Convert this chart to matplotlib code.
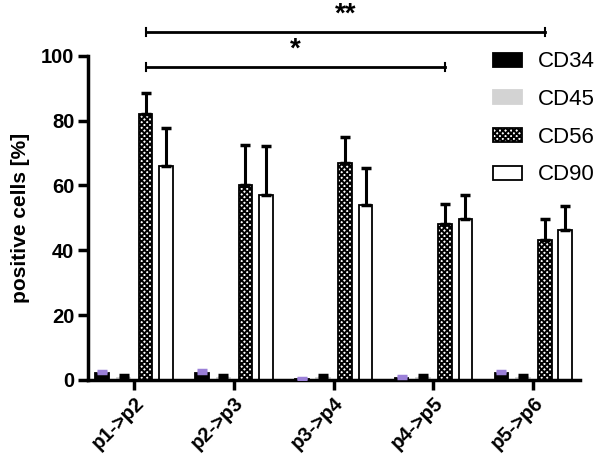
import matplotlib
matplotlib.use('Agg')
import matplotlib.pyplot as plt
import numpy as np

plt.rcParams['font.family'] = ['Liberation Sans', 'DejaVu Sans']
plt.rcParams['hatch.linewidth'] = 1.4

groups = ['p1->p2', 'p2->p3', 'p3->p4', 'p4->p5', 'p5->p6']
markers = ['CD34', 'CD45', 'CD56', 'CD90']
cd34 = [2.0, 2.0, 0.4, 0.7, 2.0]
cd34_err = [0.8, 1.0, 0.3, 0.4, 0.8]
cd45 = [0.6, 0.6, 0.6, 0.6, 0.6]
cd45_err = [0.9, 0.9, 0.9, 0.9, 0.9]
cd56 = [82.0, 60.0, 67.0, 48.0, 43.2]
cd56_err = [6.5, 12.4, 7.8, 6.2, 6.5]
cd90 = [66.0, 57.0, 54.0, 49.5, 46.3]
cd90_err = [11.7, 15.3, 11.3, 7.7, 7.5]

values = [cd34, cd45, cd56, cd90]
errors = [cd34_err, cd45_err, cd56_err, cd90_err]
faces = ['black', '#d3d3d3', 'white', 'white']
edges = ['black', '#d3d3d3', 'black', 'black']
hatches = [None, None, 'xxxxxx', None]
ecolors = ['#9b80d8', 'black', 'black', 'black']
offsets = [-0.32, -0.105, 0.115, 0.32]
width = 0.135

fig = plt.figure(figsize=(6, 4.65), dpi=100)
ax = fig.add_axes([0.147, 0.183, 0.82, 0.697])

x = np.arange(len(groups))
for i in range(4):
    ax.bar(x + offsets[i], values[i], width, color=faces[i], edgecolor=edges[i],
           hatch=hatches[i], linewidth=1.3, label=markers[i], zorder=2)
    ax.errorbar(x + offsets[i], values[i], yerr=[np.zeros(5), errors[i]],
                fmt='none', ecolor=ecolors[i], elinewidth=2.2, capsize=3.5,
                capthick=2.5, zorder=3)

ax.set_xlim(-0.46, 4.47)
ax.set_ylim(0, 100)
ax.set_yticks([0, 20, 40, 60, 80, 100])
ax.set_xticks(x)
ax.set_xticklabels(groups, rotation=45, ha='right', rotation_mode='anchor',
                   fontsize=14.5, fontweight='bold')
for lab in ax.get_yticklabels():
    lab.set_fontsize(14.5)
    lab.set_fontweight('bold')
ax.set_ylabel('positive cells [%]', fontsize=15, fontweight='bold', labelpad=8)

for s in ['top', 'right']:
    ax.spines[s].set_visible(False)
for s in ['left', 'bottom']:
    ax.spines[s].set_linewidth(2.5)
ax.tick_params(axis='both', width=2.5, length=7, direction='out', pad=3)

# significance brackets
def bracket(x1, x2, y, txt, ty):
    ax.plot([x1, x2], [y, y], color='black', lw=2, clip_on=False)
    for xx in (x1, x2):
        ax.plot([xx, xx], [y - 1.3, y + 1.3], color='black', lw=1.5, clip_on=False)
    ax.text((x1 + x2) / 2, ty, txt, ha='center', va='center', fontsize=20,
            fontweight='bold', clip_on=False)

bracket(0.115, 4.115, 107.4, '**', 112.8)
bracket(0.115, 3.115, 96.6, '*', 101.8)

ax.legend(loc='upper right', bbox_to_anchor=(1.07, 1.075), frameon=False,
          fontsize=16, handlelength=1.3, handleheight=0.6,
          labelspacing=0.75, handletextpad=0.7)

fig.savefig('out.png', dpi=100)
